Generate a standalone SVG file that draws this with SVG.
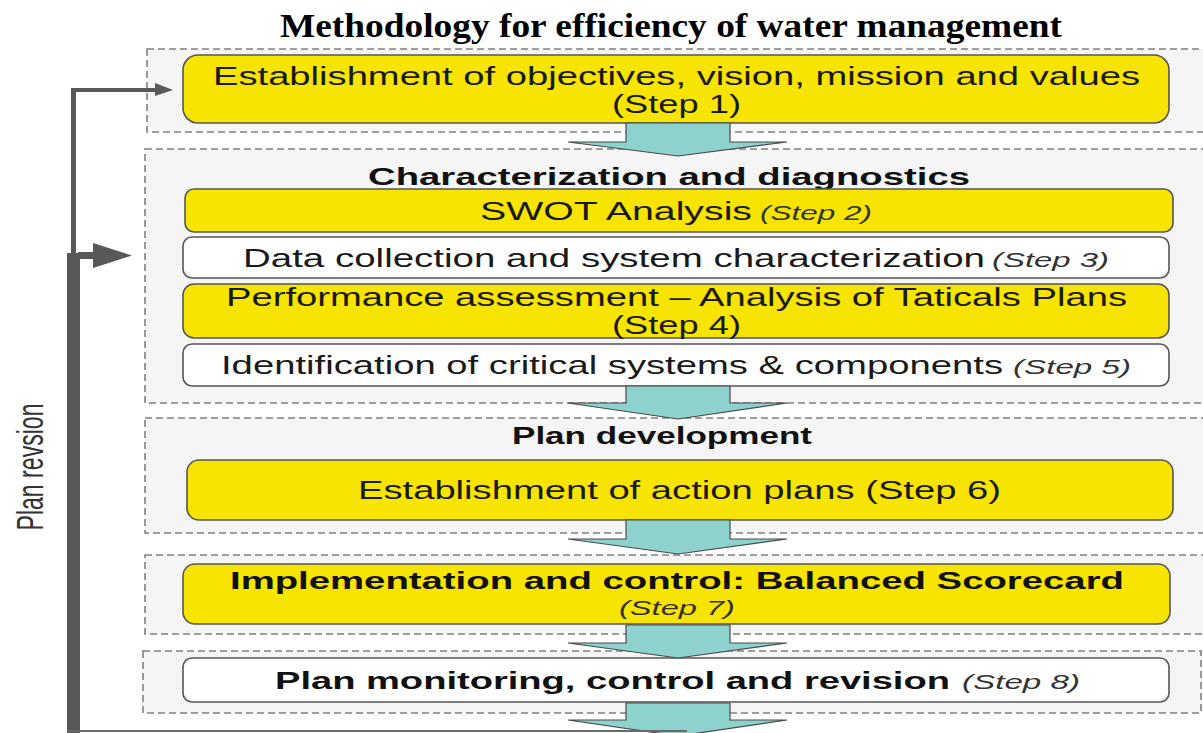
<svg xmlns="http://www.w3.org/2000/svg" width="1203" height="733" viewBox="0 0 1203 733">
<style>
.cont{fill:#f5f5f5;stroke:#808080;stroke-width:1.6;stroke-dasharray:7 4}
.yb{fill:#f7e400;stroke:#555;stroke-width:1.6}
.wb{fill:#ffffff;stroke:#555;stroke-width:1.6}
.t{font-family:"Liberation Sans",Arial,sans-serif;font-size:25px;fill:#1a1a1a}
.b{font-family:"Liberation Sans",Arial,sans-serif;font-size:23px;font-weight:bold;fill:#111}
.s{font-family:"Liberation Sans",Arial,sans-serif;font-size:20px;font-style:italic;fill:#333}
.arr{fill:#8dd2cd;stroke:#4a4a4a;stroke-width:1.2}
.fb{fill:#57585a;stroke:none}
</style>
<rect width="1203" height="733" fill="#ffffff"/>
<text x="671" y="37" text-anchor="middle" textLength="782" lengthAdjust="spacingAndGlyphs" style="font-family:'Liberation Serif','Times New Roman',serif;font-size:33px;font-weight:bold;fill:#000">Methodology for efficiency of water management</text>

<g id="containers">
<rect class="cont" x="147" y="49" width="1070" height="83"/>
<rect class="cont" x="145" y="149" width="1072" height="254"/>
<rect class="cont" x="145" y="418" width="1072" height="115"/>
<rect class="cont" x="145" y="555" width="1072" height="79"/>
<rect class="cont" x="143" y="651" width="1058" height="62"/>
</g>

<g id="node-step1">
<rect class="yb" x="183" y="55" width="986" height="68" rx="15"/>
<text class="t" x="213" y="85" textLength="927" lengthAdjust="spacingAndGlyphs">Establishment of objectives, vision, mission and values</text>
<text class="t" x="612" y="113" textLength="129" lengthAdjust="spacingAndGlyphs">(Step 1)</text>
</g>

<g id="header-characterization">
<text class="b" x="368" y="185" textLength="602" lengthAdjust="spacingAndGlyphs">Characterization and diagnostics</text>
</g>

<g id="node-step2">
<rect class="yb" x="185" y="189" width="988" height="43" rx="9"/>
<text class="t" x="480" y="220" textLength="272" lengthAdjust="spacingAndGlyphs">SWOT Analysis</text>
<text class="s" x="760" y="220" textLength="112" lengthAdjust="spacingAndGlyphs">(Step 2)</text>
</g>

<g id="node-step3">
<rect class="wb" x="183" y="237" width="986" height="41" rx="9"/>
<text class="t" x="243" y="267" textLength="742" lengthAdjust="spacingAndGlyphs">Data collection and system characterization</text>
<text class="s" x="992" y="267" textLength="117" lengthAdjust="spacingAndGlyphs">(Step 3)</text>
</g>

<g id="node-step4">
<rect class="yb" x="183" y="284" width="986" height="54" rx="11"/>
<text class="t" x="226" y="306" textLength="901" lengthAdjust="spacingAndGlyphs">Performance assessment – Analysis of Taticals Plans</text>
<text class="t" x="612" y="334" textLength="129" lengthAdjust="spacingAndGlyphs">(Step 4)</text>
</g>

<g id="node-step5">
<rect class="wb" x="183" y="344" width="986" height="42" rx="9"/>
<text class="t" x="221" y="374" textLength="782" lengthAdjust="spacingAndGlyphs">Identification of critical systems &amp; components</text>
<text class="s" x="1013" y="374" textLength="118" lengthAdjust="spacingAndGlyphs">(Step 5)</text>
</g>

<g id="header-plan-development">
<text class="b" x="512" y="444" textLength="300" lengthAdjust="spacingAndGlyphs">Plan development</text>
</g>

<g id="node-step6">
<rect class="yb" x="187" y="460" width="986" height="60" rx="12"/>
<text class="t" x="358" y="499" textLength="643" lengthAdjust="spacingAndGlyphs">Establishment of action plans (Step 6)</text>
</g>

<g id="node-step7">
<rect class="yb" x="183" y="564" width="987" height="60" rx="12"/>
<text class="b" x="230" y="589" textLength="894" lengthAdjust="spacingAndGlyphs">Implementation and control: Balanced Scorecard</text>
<text class="s" x="619" y="615" textLength="116" lengthAdjust="spacingAndGlyphs">(Step 7)</text>
</g>

<g id="node-step8">
<rect class="wb" x="183" y="658" width="986" height="44" rx="9"/>
<text class="b" x="275" y="689" textLength="675" lengthAdjust="spacingAndGlyphs">Plan monitoring, control and revision</text>
<text class="s" x="962" y="689" textLength="118" lengthAdjust="spacingAndGlyphs">(Step 8)</text>
</g>

<g id="label-plan-revision">
<text transform="translate(43,467) rotate(-90)" text-anchor="middle" textLength="127" lengthAdjust="spacingAndGlyphs" style="font-family:'Liberation Sans',Arial,sans-serif;font-size:36px;fill:#333">Plan revsion</text>
</g>

<g id="connectors">
<path class="arr" d="M626,123 H730 V142 H787 L678,156 L568,142 H626 Z"/>
<path class="arr" d="M626,386 H730 V403 H787 L678,419 L568,403 H626 Z"/>
<path class="arr" d="M626,520 H730 V539 H787 L678,554 L568,539 H626 Z"/>
<path class="arr" d="M626,625 H730 V643 H787 L678,658 L568,643 H626 Z"/>
<path class="arr" d="M626,703 H730 V720 H787 L678,736 L568,720 H626 Z"/>
<rect class="fb" x="67" y="253" width="13" height="480"/>
<rect class="fb" x="71" y="88" width="5" height="167"/>
<rect class="fb" x="71" y="88" width="86" height="4"/>
<path class="fb" d="M155,83 L173,90 L155,96 Z"/>
<rect class="fb" x="78" y="252" width="17" height="7"/>
<path class="fb" d="M93,243 L132,255.5 L93,268 Z"/>
<rect x="67" y="730" width="620" height="2" fill="#6a6a6a"/>
</g>
</svg>
